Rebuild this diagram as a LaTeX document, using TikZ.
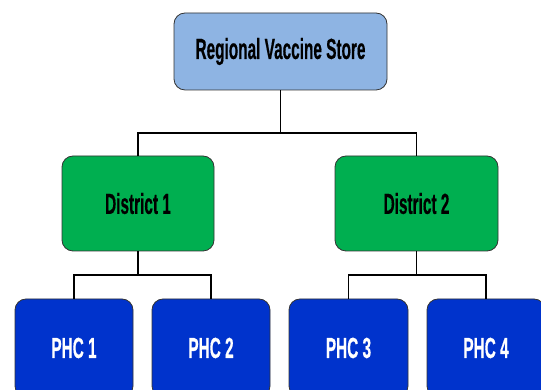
\documentclass[tikz,border=0pt]{standalone}
\usepackage{fontspec}
\setmainfont{Liberation Sans}
\newfontfamily\lblfont[FakeBold=0.6]{Liberation Sans Bold}
\usepackage{graphicx}
\definecolor{topblue}{HTML}{8EB4E3}
\definecolor{distgreen}{HTML}{00AF50}
\definecolor{phcblue}{HTML}{0033CC}
\definecolor{edgegray}{HTML}{333333}
\newcommand\boxlabel[1]{\scalebox{0.53}[1]{\fontsize{29}{31}\lblfont #1}}
\tikzset{
  orgbox/.style={draw=edgegray, line width=0.8pt, rounded corners=11pt, inner sep=0pt, align=center},
  topbox/.style={orgbox, fill=topblue, text=black},
  distbox/.style={orgbox, fill=distgreen, text=black},
  phcbox/.style={orgbox, fill=phcblue, text=white},
  link/.style={draw=black, line width=1.8pt}
}
\begin{document}
\begin{tikzpicture}[x=1pt,y=1pt]
\clip (0,0) rectangle (541,390);
\fill[white] (0,0) rectangle (541,390);
\node[topbox, minimum width=213pt, minimum height=77pt] (top) at (280.5,338.5) {\boxlabel{Regional Vaccine Store}};
\node[distbox, minimum width=152pt, minimum height=95pt] (d1) at (138,186.5) {\boxlabel{District 1}};
\node[distbox, minimum width=163pt, minimum height=95pt] (d2) at (416.5,186.5) {\boxlabel{District 2}};
\node[phcbox, minimum width=118pt, minimum height=98pt] (p1) at (74,42) {\boxlabel{PHC 1}};
\node[phcbox, minimum width=118pt, minimum height=98pt] (p2) at (211,42) {\boxlabel{PHC 2}};
\node[phcbox, minimum width=119pt, minimum height=98pt] (p3) at (348.5,42) {\boxlabel{PHC 3}};
\node[phcbox, minimum width=118pt, minimum height=98pt] (p4) at (486,42) {\boxlabel{PHC 4}};
\coordinate (j0) at (280.5,257);
\coordinate (j1) at (138,115);
\coordinate (j2) at (416.5,115);
\draw[link] (top.south) -- (j0);
\draw[link] (j0) -| (d1.north);
\draw[link] (j0) -| (d2.north);
\draw[link] (d1.south) -- (j1);
\draw[link] (j1) -| (p1.north);
\draw[link] (j1) -| (p2.north);
\draw[link] (d2.south) -- (j2);
\draw[link] (j2) -| (p3.north);
\draw[link] (j2) -| (p4.north);
\end{tikzpicture}
\end{document}
